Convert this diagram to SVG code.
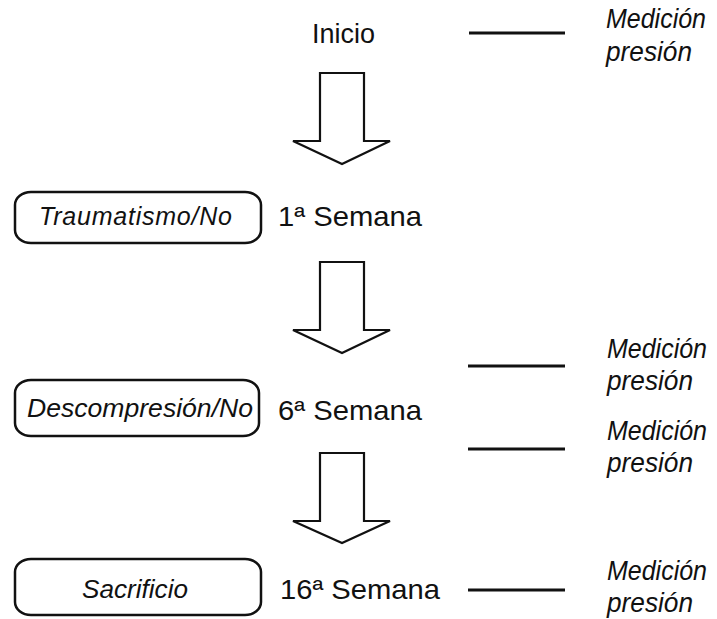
<svg xmlns="http://www.w3.org/2000/svg" width="717" height="619" viewBox="0 0 717 619">
<style>
text{font-family:"Liberation Sans",Arial,sans-serif;fill:#111}
.wk{font-size:28px}
.box{fill:#fff;stroke:#111;stroke-width:2.5}
.lbl{font-size:25px;font-style:italic}
.med{font-size:27px;font-style:italic}
.arr{fill:#fff;stroke:#111;stroke-width:2.2;stroke-linejoin:miter}
.tick{stroke:#111;stroke-width:2.8}
</style>
<rect width="717" height="619" fill="#fff"/>
<g id="inicio"><text class="wk" x="312" y="43" textLength="63" lengthAdjust="spacingAndGlyphs">Inicio</text></g>
<g id="traumatismo">
<rect class="box" x="15" y="192" width="246" height="51" rx="16" ry="13"/>
<text class="lbl" x="39" y="225" textLength="193" lengthAdjust="spacing">Traumatismo/No</text>
</g>
<g id="semana1"><text class="wk" x="278" y="226" textLength="144" lengthAdjust="spacingAndGlyphs">1ª Semana</text></g>
<g id="descompresion">
<rect class="box" x="15" y="380" width="244" height="56" rx="16" ry="13"/>
<text class="lbl" x="27" y="417" textLength="226" lengthAdjust="spacingAndGlyphs">Descompresión/No</text>
</g>
<g id="semana6"><text class="wk" x="278" y="420" textLength="144" lengthAdjust="spacingAndGlyphs">6ª Semana</text></g>
<g id="sacrificio">
<rect class="box" x="15" y="559" width="246" height="56" rx="16" ry="13"/>
<text class="lbl" x="82" y="598" textLength="106" lengthAdjust="spacingAndGlyphs">Sacrificio</text>
</g>
<g id="semana16"><text class="wk" x="280" y="599" textLength="160" lengthAdjust="spacingAndGlyphs">16ª Semana</text></g>
<g id="medicion1"><text class="med" x="606" y="28" textLength="100" lengthAdjust="spacingAndGlyphs">Medición</text><text class="med" x="606" y="61" textLength="86" lengthAdjust="spacingAndGlyphs">presión</text></g>
<g id="medicion2"><text class="med" x="607" y="358" textLength="100" lengthAdjust="spacingAndGlyphs">Medición</text><text class="med" x="607" y="390" textLength="86" lengthAdjust="spacingAndGlyphs">presión</text></g>
<g id="medicion3"><text class="med" x="607" y="440" textLength="100" lengthAdjust="spacingAndGlyphs">Medición</text><text class="med" x="607" y="472" textLength="86" lengthAdjust="spacingAndGlyphs">presión</text></g>
<g id="medicion4"><text class="med" x="607" y="580" textLength="100" lengthAdjust="spacingAndGlyphs">Medición</text><text class="med" x="607" y="612" textLength="86" lengthAdjust="spacingAndGlyphs">presión</text></g>
<g id="connectors">
<polygon class="arr" points="320,73 364,73 364,141 390,141 342,164 293,141 320,141"/>
<polygon class="arr" points="320,262 364,262 364,330 390,330 342,353 293,330 320,330"/>
<polygon class="arr" points="320,453 364,453 364,521 390,521 342,543 293,521 320,521"/>
<line class="tick" x1="469" y1="33" x2="565" y2="33"/>
<line class="tick" x1="468" y1="366" x2="565" y2="366"/>
<line class="tick" x1="468" y1="449" x2="565" y2="449"/>
<line class="tick" x1="468" y1="590" x2="565" y2="590"/>
</g>
</svg>
